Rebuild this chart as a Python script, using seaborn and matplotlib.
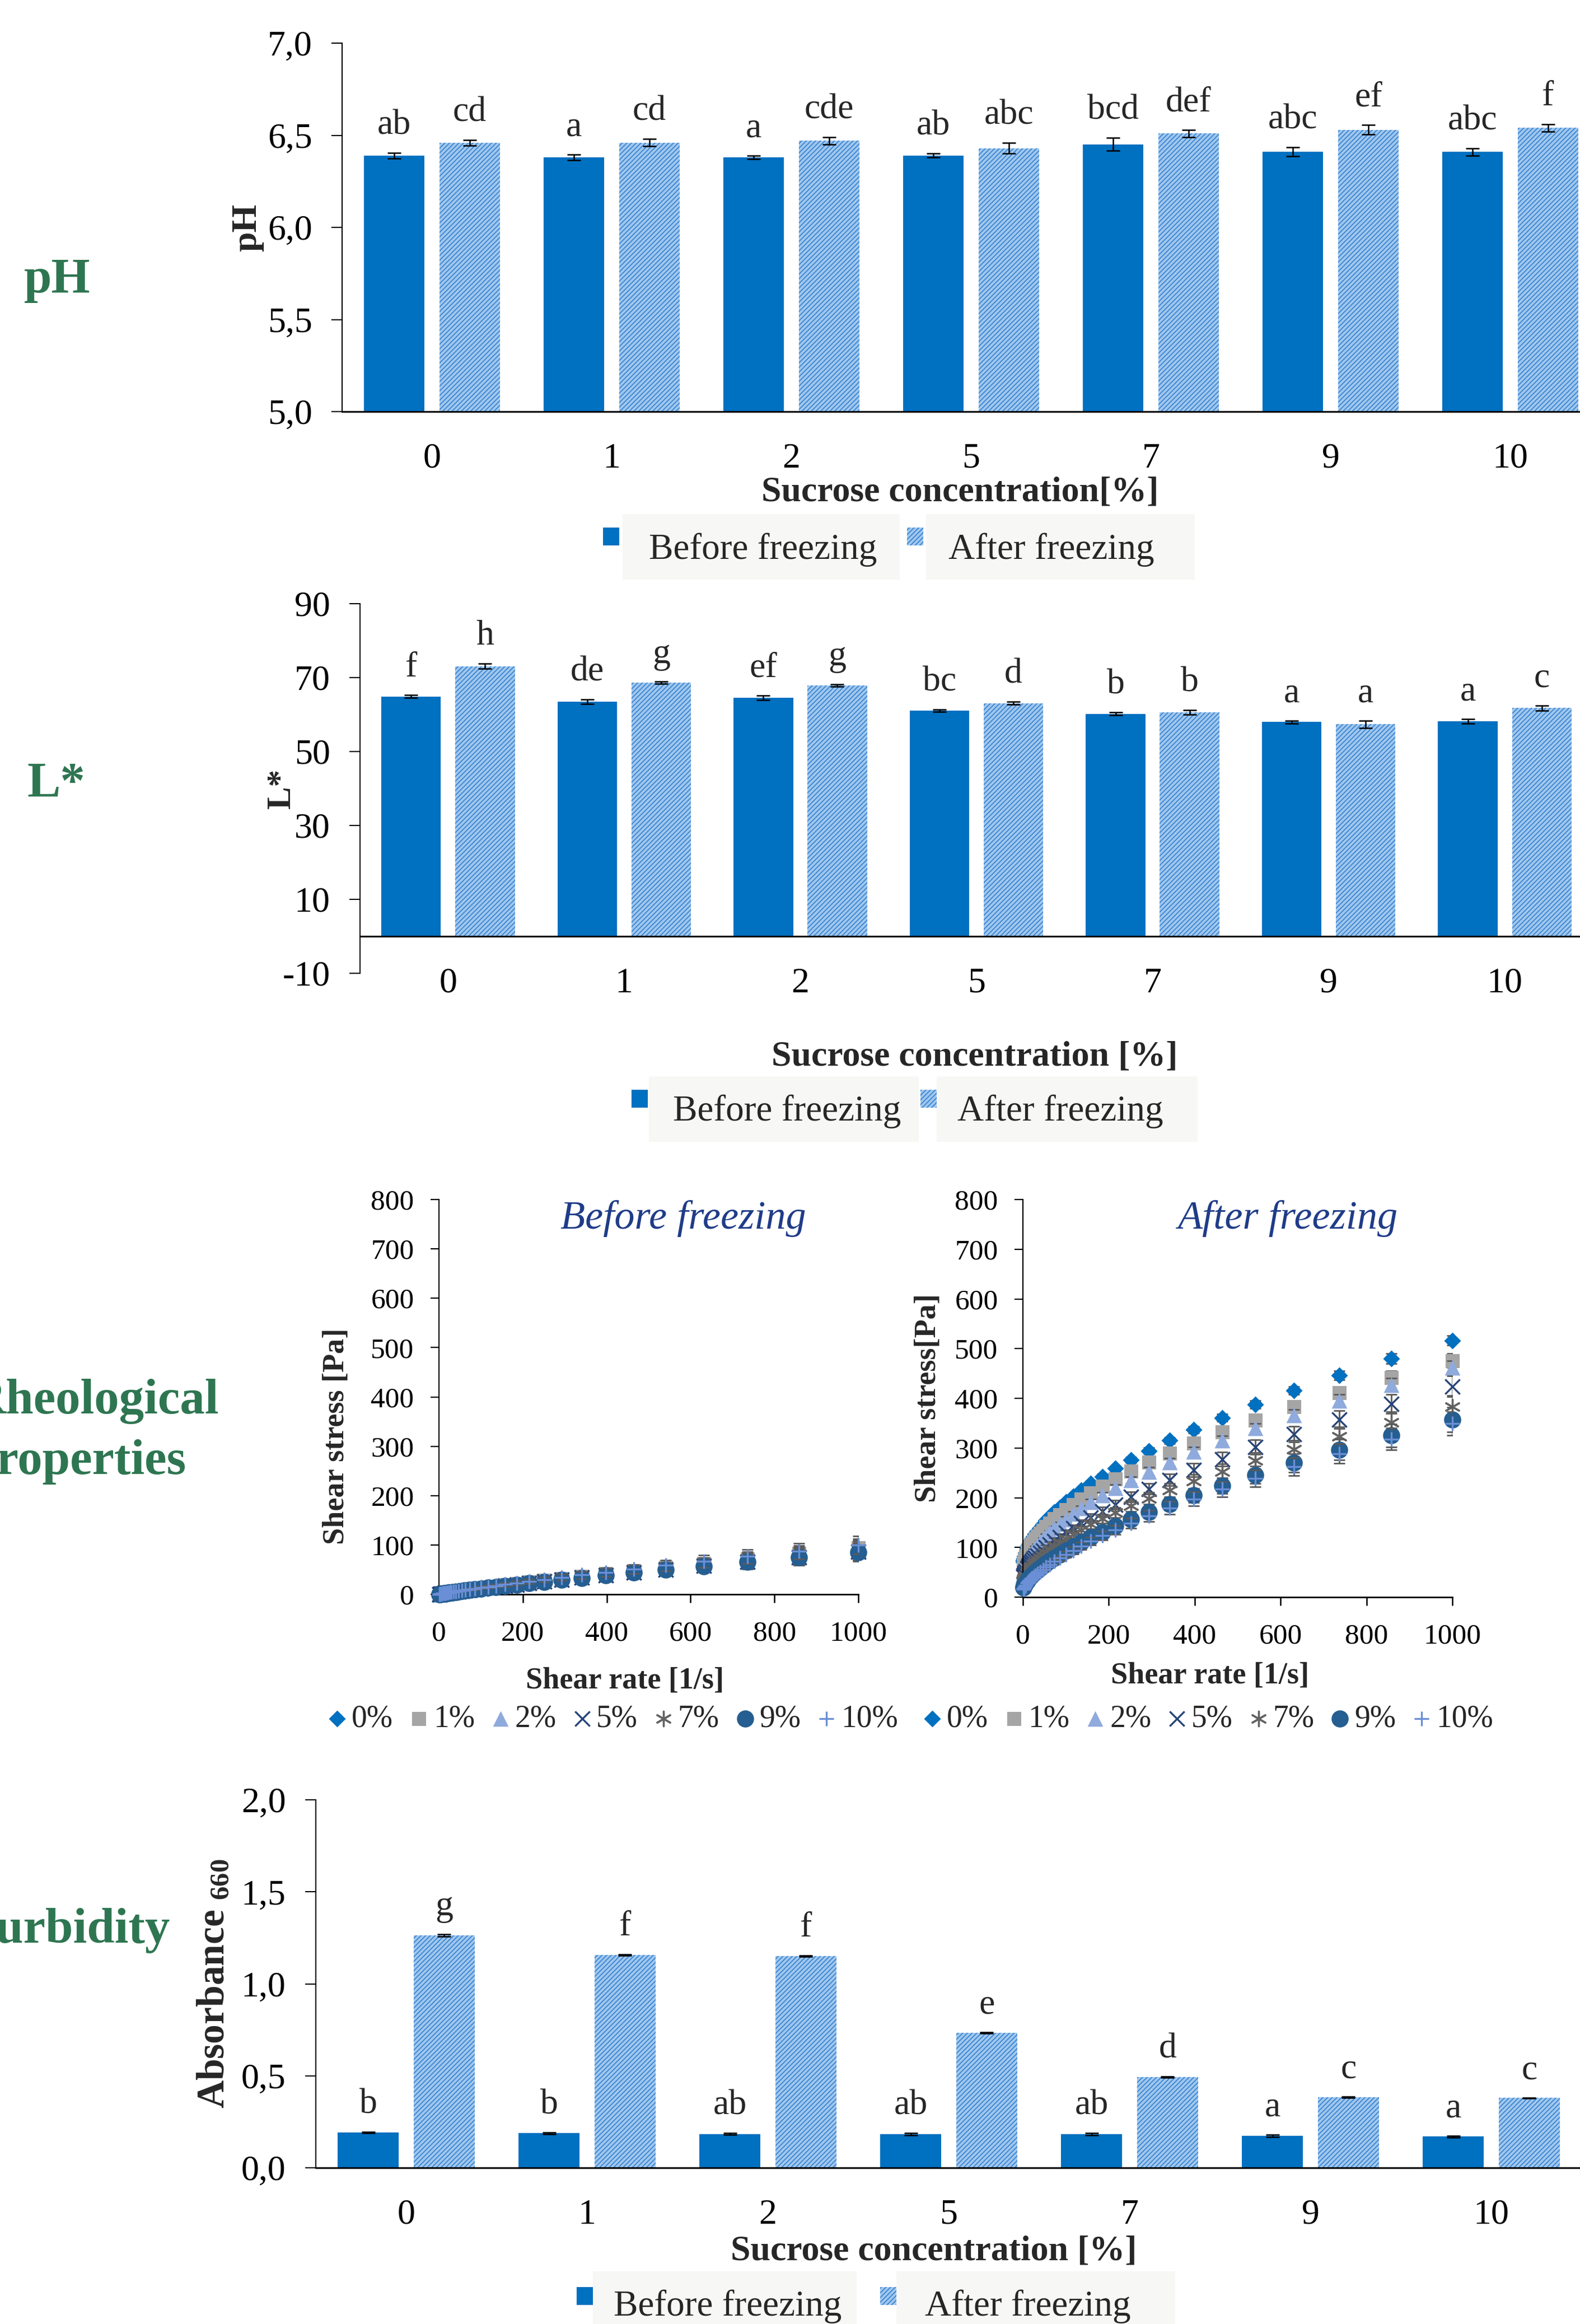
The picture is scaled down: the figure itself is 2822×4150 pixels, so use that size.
import matplotlib
matplotlib.use('Agg')
import pandas as pd
import matplotlib.pyplot as plt
import seaborn as sns
from matplotlib.patches import Rectangle
from matplotlib.markers import MarkerStyle
from matplotlib.ticker import FuncFormatter

# ---------------- data ----------------
conc_labels = ['0', '1', '2', '5', '7', '9', '10']
states = ['Before freezing', 'After freezing']

ph_before = [6.39, 6.38, 6.38, 6.39, 6.45, 6.41, 6.41]
ph_before_sd = [0.015, 0.015, 0.01, 0.01, 0.035, 0.025, 0.02]
ph_after = [6.46, 6.46, 6.47, 6.43, 6.51, 6.53, 6.54]
ph_after_sd = [0.015, 0.02, 0.02, 0.03, 0.02, 0.025, 0.02]
ph_before_letters = ['ab', 'a', 'a', 'ab', 'bcd', 'abc', 'abc']
ph_after_letters = ['cd', 'cd', 'cde', 'abc', 'def', 'ef', 'f']

lstar_before = [64.9, 63.5, 64.5, 61.0, 60.2, 58.0, 58.2]
lstar_before_sd = [0.4, 0.6, 0.6, 0.3, 0.4, 0.4, 0.6]
lstar_after = [73.1, 68.6, 67.9, 63.1, 60.6, 57.4, 61.8]
lstar_after_sd = [0.7, 0.3, 0.3, 0.4, 0.6, 1.0, 0.7]
lstar_before_letters = ['f', 'de', 'ef', 'bc', 'b', 'a', 'a']
lstar_after_letters = ['h', 'g', 'g', 'd', 'b', 'a', 'c']

turb_before = [0.192, 0.188, 0.184, 0.183, 0.184, 0.173, 0.169]
turb_before_sd = [0.004, 0.005, 0.005, 0.006, 0.006, 0.006, 0.004]
turb_after = [1.264, 1.157, 1.151, 0.734, 0.493, 0.383, 0.379]
turb_after_sd = [0.006, 0.004, 0.004, 0.004, 0.004, 0.003, 0.003]
turb_before_letters = ['b', 'b', 'ab', 'ab', 'ab', 'a', 'a']
turb_after_letters = ['g', 'f', 'f', 'e', 'd', 'c', 'c']

# rheology: shear rate [1/s] and shear stress [Pa]
shear_rate = [1.0, 1.58, 2.51, 3.98, 6.31, 10.0, 11.7, 13.6, 15.8, 18.5, 21.5, 25.1,
              29.3, 34.1, 39.8, 46.4, 54.1, 63.1, 73.6, 85.8, 100, 117, 136, 158,
              185, 215, 251, 293, 341, 398, 464, 541, 631, 736, 858, 1000]
series_names = ['0%', '1%', '2%', '5%', '7%', '9%', '10%']

bf_0 = [0.2, 0.3, 0.5, 0.7, 1.0, 1.6, 1.8, 2.0, 2.3, 2.7, 3.0, 3.5, 4.0, 4.6, 5.2, 6.0, 6.8, 7.8,
        8.9, 10.2, 11.7, 13.3, 15.2, 17.4, 19.9, 22.8, 26.1, 29.8, 34.1, 39.0, 44.6, 50.9, 58.3, 66.6, 76.2, 87.1]
bf_1 = [0.2, 0.3, 0.5, 0.8, 1.1, 1.7, 1.9, 2.2, 2.5, 2.9, 3.3, 3.8, 4.3, 4.9, 5.6, 6.4, 7.4, 8.4,
        9.6, 11.0, 12.6, 14.4, 16.4, 18.8, 21.5, 24.6, 28.1, 32.2, 36.8, 42.1, 48.1, 55.0, 62.9, 72.0, 82.3, 94.1]
bf_2 = [0.2, 0.3, 0.5, 0.7, 1.1, 1.6, 1.8, 2.1, 2.4, 2.7, 3.1, 3.6, 4.1, 4.7, 5.4, 6.1, 7.0, 8.0,
        9.2, 10.5, 12.0, 13.7, 15.7, 17.9, 20.5, 23.5, 26.8, 30.7, 35.1, 40.1, 45.9, 52.5, 60.0, 68.6, 78.5, 89.7]
bf_5 = [0.2, 0.3, 0.5, 0.7, 1.0, 1.5, 1.8, 2.0, 2.3, 2.6, 3.0, 3.4, 3.9, 4.5, 5.2, 5.9, 6.7, 7.7,
        8.8, 10.1, 11.5, 13.2, 15.1, 17.2, 19.7, 22.6, 25.8, 29.5, 33.7, 38.6, 44.1, 50.4, 57.7, 66.0, 75.4, 86.3]
bf_7 = [0.2, 0.3, 0.5, 0.7, 1.1, 1.6, 1.9, 2.1, 2.4, 2.8, 3.2, 3.7, 4.2, 4.8, 5.5, 6.2, 7.2, 8.2,
        9.3, 10.7, 12.2, 14.0, 16.0, 18.3, 20.9, 23.9, 27.4, 31.3, 35.8, 40.9, 46.8, 53.5, 61.2, 70.0, 80.0, 91.5]
bf_9 = [0.2, 0.3, 0.5, 0.7, 1.0, 1.5, 1.7, 2.0, 2.3, 2.6, 3.0, 3.4, 3.9, 4.5, 5.1, 5.8, 6.7, 7.6,
        8.7, 10.0, 11.4, 13.1, 14.9, 17.1, 19.5, 22.3, 25.5, 29.2, 33.4, 38.2, 43.7, 49.9, 57.1, 65.3, 74.7, 85.4]
bf_10 = [0.2, 0.4, 0.5, 0.8, 1.2, 1.8, 2.0, 2.3, 2.7, 3.1, 3.5, 4.0, 4.6, 5.2, 6.0, 6.8, 7.8, 9.0,
         10.2, 11.7, 13.4, 15.3, 17.5, 20.0, 22.9, 26.2, 30.0, 34.3, 39.2, 44.8, 51.2, 58.6, 67.0, 76.6, 87.6, 100.2]
bf_sd = [0.1, 0.1, 0.1, 0.2, 0.2, 0.3, 0.4, 0.4, 0.5, 0.6, 0.6, 0.7, 0.8, 1.0, 1.1, 1.3, 1.4, 1.6,
         1.9, 2.1, 2.4, 2.8, 3.2, 3.7, 4.2, 4.8, 5.5, 6.3, 7.2, 8.2, 9.4, 10.7, 12.2, 14.0, 16.0, 18.3]

af_0 = [70.8, 73.9, 77.8, 82.8, 89.3, 97.6, 100.9, 104.4, 108.3, 112.5, 117.0, 122.0, 127.3, 133.2,
        139.5, 146.4, 153.9, 162.1, 170.9, 180.6, 191.0, 202.4, 214.8, 228.2, 242.7, 258.6, 275.9,
        294.6, 315.0, 337.1, 361.1, 387.2, 415.6, 446.5, 480.0, 516.5]
af_1 = [64.9, 67.8, 71.4, 76.0, 82.0, 89.7, 92.7, 95.9, 99.5, 103.3, 107.5, 112.1, 117.0, 122.4,
        128.3, 134.6, 141.5, 149.0, 157.2, 166.1, 175.7, 186.2, 197.6, 209.9, 223.4, 238.0, 253.9,
        271.1, 289.9, 310.3, 332.4, 356.5, 382.6, 411.1, 442.0, 475.6]
af_2 = [49.0, 51.6, 55.0, 59.4, 65.1, 72.5, 75.4, 78.5, 81.9, 85.7, 89.8, 94.2, 99.0, 104.3,
        110.1, 116.3, 123.1, 130.6, 138.6, 147.5, 157.0, 167.5, 178.9, 191.3, 204.7, 219.5, 235.5,
        252.9, 271.9, 292.6, 315.1, 339.8, 366.4, 395.7, 427.4, 462.0]
af_5 = [40.6, 42.4, 44.8, 48.0, 52.3, 57.9, 60.2, 62.7, 65.4, 68.4, 71.7, 75.4, 79.4, 83.7,
        88.6, 93.9, 99.8, 106.1, 113.2, 121.0, 129.4, 138.8, 149.0, 160.3, 172.8, 186.3, 201.4,
        217.9, 236.0, 255.8, 277.6, 301.8, 328.1, 357.3, 389.0, 424.1]
af_7 = [31.2, 33.1, 35.6, 38.9, 43.2, 48.9, 51.1, 53.6, 56.3, 59.2, 62.5, 66.0, 69.9, 74.1,
        78.7, 83.9, 89.4, 95.5, 102.1, 109.5, 117.4, 126.1, 135.6, 146.2, 157.6, 170.1, 183.7,
        198.8, 215.2, 233.1, 252.7, 274.4, 297.8, 323.5, 351.7, 382.7]
af_9 = [19.1, 20.5, 22.4, 24.9, 28.3, 32.9, 34.8, 36.8, 39.1, 41.6, 44.3, 47.3, 50.7, 54.4,
        58.4, 62.9, 67.9, 73.3, 79.4, 86.0, 93.4, 101.5, 110.4, 120.2, 131.2, 143.1, 156.3,
        171.0, 187.1, 204.8, 224.5, 246.1, 269.9, 296.5, 325.5, 357.4]
af_10 = [15.5, 16.7, 18.4, 20.6, 23.8, 28.0, 29.6, 31.4, 33.4, 35.6, 38.1, 40.8, 43.9, 47.4,
         51.2, 55.6, 60.5, 65.9, 71.9, 78.5, 85.9, 94.0, 102.9, 112.7, 123.7, 135.6, 148.8,
         163.5, 179.6, 197.3, 217.0, 238.6, 262.4, 289.0, 318.0, 349.4]
af_sd_0 = [1, 1, 1, 1, 1, 2, 2, 2, 2, 2, 2, 2, 3, 3, 3, 3, 3, 3, 3, 4, 4, 4, 4, 5, 5, 5, 6, 6, 6, 7, 7, 8, 8, 9, 10, 10]
af_sd_1 = [2, 2, 2, 2, 2, 3, 3, 3, 3, 3, 3, 3, 4, 4, 4, 4, 4, 4, 5, 5, 5, 6, 6, 6, 7, 7, 8, 8, 9, 9, 10, 11, 11, 12, 13, 14]
af_sd_2 = [1, 2, 2, 2, 2, 2, 2, 2, 2, 3, 3, 3, 3, 3, 3, 3, 4, 4, 4, 4, 5, 5, 5, 6, 6, 7, 7, 8, 8, 9, 9, 10, 11, 12, 13, 14]
af_sd_5 = [2, 2, 2, 2, 3, 3, 3, 3, 3, 3, 4, 4, 4, 4, 4, 5, 5, 5, 6, 6, 6, 7, 7, 8, 9, 9, 10, 11, 12, 13, 14, 15, 16, 18, 19, 21]
af_sd_7 = [2, 2, 2, 2, 3, 3, 3, 3, 3, 4, 4, 4, 4, 4, 5, 5, 5, 6, 6, 7, 7, 8, 8, 9, 9, 10, 11, 12, 13, 14, 15, 16, 18, 19, 21, 23]
af_sd_9 = [1, 1, 2, 2, 2, 2, 2, 3, 3, 3, 3, 3, 4, 4, 4, 4, 5, 5, 6, 6, 7, 7, 8, 8, 9, 10, 11, 12, 13, 14, 16, 17, 19, 21, 23, 25]
af_sd_10 = [1, 1, 1, 1, 2, 2, 2, 2, 2, 3, 3, 3, 3, 3, 4, 4, 4, 5, 5, 5, 6, 7, 7, 8, 9, 9, 10, 11, 13, 14, 15, 17, 18, 20, 22, 24]

# ---------------- style ----------------
BLUE = '#0070C0'
AFTER_FACE = '#A3C8EC'
HATCH = '#3D88D6'
GREEN = '#2e7651'
NAVY = '#1f3c88'
LEG_BOX = '#f7f7f5'
ERR_GRAY = '#5a5a5a'

series_colors = ['#0070C0', '#A5A5A5', '#8FAADC', '#264478', '#636363', '#255E91', '#6A8FD6']
series_markers = ['D', 's', '^', 'x', (6, 2, 0), 'o', '+']
series_sizes = [234, 324, 400, 361, 361, 484, 361]

sns.set_theme(style='ticks')
plt.rcParams['font.family'] = ['Liberation Serif', 'DejaVu Serif']
plt.rcParams['mathtext.fontset'] = 'custom'
plt.rcParams['mathtext.rm'] = 'Liberation Serif'
plt.rcParams['mathtext.bf'] = 'Liberation Serif:bold'
plt.rcParams['mathtext.it'] = 'Liberation Serif:italic'
plt.rcParams['hatch.linewidth'] = 1.4
plt.rcParams['axes.unicode_minus'] = False
plt.rcParams['axes.edgecolor'] = 'black'
plt.rcParams['xtick.color'] = 'black'
plt.rcParams['ytick.color'] = 'black'

W, H = 2822, 4150
fig = plt.figure(figsize=(W / 100, H / 100), dpi=100)
fig.patch.set_facecolor('white')


def rect_px(left, top, right, bottom):
    return [left / W, 1 - bottom / H, (right - left) / W, (bottom - top) / H]


def comma(decimals):
    return FuncFormatter(lambda v, _: f'{v:.{decimals}f}'.replace('.', ','))


def bar_panel(box, before, after, before_sd, after_sd, before_lab, after_lab,
              ylim, yticks, ylabel, ylabel_x, ylabel_size, xlabel, xlabel_xy,
              decimals=None, zero_axis=False, fs=46):
    ax = fig.add_axes(rect_px(*box))
    df = pd.DataFrame({'conc': conc_labels * 2,
                       'value': before + after,
                       'state': [states[0]] * 7 + [states[1]] * 7})
    sns.barplot(data=df, x='conc', y='value', hue='state', order=conc_labels,
                hue_order=states, palette=[BLUE, AFTER_FACE], saturation=1,
                width=0.84, gap=0.195, errorbar=None, linewidth=0,
                legend=False, ax=ax)
    bars_b, bars_a = ax.containers[0], ax.containers[1]
    for p in bars_a:
        p.set_hatch('////')
        p.set_edgecolor(HATCH)
        p.set_linewidth(0)
    for bars, sd, labs in [(bars_b, before_sd, before_lab), (bars_a, after_sd, after_lab)]:
        xs = [p.get_x() + p.get_width() / 2 for p in bars]
        ys = [p.get_height() for p in bars]
        ax.errorbar(xs, ys, yerr=sd, fmt='none', ecolor='black', elinewidth=1.8,
                    capsize=8.5, capthick=1.8, zorder=3)
        for x, y, s, t in zip(xs, ys, sd, labs):
            ax.annotate(t, (x, y + s), xytext=(0, 14), textcoords='offset points',
                        ha='center', va='bottom', fontsize=fs)
    ax.set_xlim(-0.5, 6.5)
    ax.set_ylim(*ylim)
    ax.set_yticks(yticks)
    if decimals is not None:
        ax.yaxis.set_major_formatter(comma(decimals))
    ax.spines[['top', 'right']].set_visible(False)
    ax.spines['left'].set_linewidth(1.5)
    ax.spines['bottom'].set_linewidth(2.2)
    if zero_axis:
        ax.spines['bottom'].set_position(('data', 0))
    ax.tick_params(axis='y', direction='out', length=13.5, width=1.5, pad=25, labelsize=fs)
    ax.tick_params(axis='x', length=0, pad=40, labelsize=fs)
    ax.set_xlabel(xlabel, fontsize=fs, fontweight='bold')
    ax.xaxis.set_label_coords(*xlabel_xy)
    ax.set_ylabel(ylabel, fontsize=ylabel_size, fontweight='bold')
    ax.yaxis.set_label_coords(ylabel_x, 0.5)
    return ax


def bar_legend(m1, b1, t1, m2, b2, t2, mw=29, mh=32, bh=117, fs=47):
    # entry boxes
    for (x, y, w) in [b1, b2]:
        fig.add_artist(Rectangle((x / W, 1 - (y + bh) / H), w / W, bh / H,
                                 transform=fig.transFigure, facecolor=LEG_BOX,
                                 edgecolor='none'))
    fig.add_artist(Rectangle((m1[0] / W, 1 - (m1[1] + mh) / H), mw / W, mh / H,
                             transform=fig.transFigure, facecolor=BLUE, linewidth=0))
    fig.add_artist(Rectangle((m2[0] / W, 1 - (m2[1] + mh) / H), mw / W, mh / H,
                             transform=fig.transFigure, facecolor=AFTER_FACE,
                             edgecolor=HATCH, hatch='////', linewidth=0))
    fig.text(t1[0] / W, 1 - t1[1] / H, states[0], ha='left', va='center', fontsize=fs)
    fig.text(t2[0] / W, 1 - t2[1] / H, states[1], ha='left', va='center', fontsize=fs)


def rheo_panel(box, series, sds, title, title_xy, ylabel, ylabel_xy, xlabel_xy, legend_xy):
    ax = fig.add_axes(rect_px(*box))
    for i in range(7):
        ax.errorbar(shear_rate, series[i], yerr=sds[i], fmt='none', ecolor=ERR_GRAY,
                    elinewidth=2.0, capsize=7, capthick=2.0, zorder=2 + i * 0.1)
        m = series_markers[i]
        if MarkerStyle(m).is_filled():
            kw = dict(edgecolor=series_colors[i], linewidth=0)
        else:
            kw = dict(edgecolor=series_colors[i], linewidth=2.4)
        sns.scatterplot(x=shear_rate, y=series[i], marker=m, s=series_sizes[i],
                        color=series_colors[i], label=series_names[i], ax=ax,
                        zorder=2.05 + i * 0.1, clip_on=False, **kw)
    ax.set_xlim(0, 1000)
    ax.set_ylim(0, 800)
    ax.set_xticks(range(0, 1001, 200))
    ax.set_yticks(range(0, 801, 100))
    ax.spines[['top', 'right']].set_visible(False)
    ax.spines['left'].set_linewidth(1.6)
    ax.spines['bottom'].set_linewidth(2.0)
    ax.tick_params(axis='y', direction='out', length=11, width=1.6, pad=21, labelsize=37)
    ax.tick_params(axis='x', direction='out', length=11, width=1.8, pad=23, labelsize=37)
    ax.text(title_xy[0], title_xy[1], title, transform=ax.transAxes, ha='center',
            va='center', fontsize=52, style='italic', color=NAVY)
    ax.set_xlabel('Shear rate [1/s]', fontsize=39, fontweight='bold')
    ax.xaxis.set_label_coords(*xlabel_xy)
    ax.set_ylabel(ylabel, fontsize=39, fontweight='bold')
    ax.yaxis.set_label_coords(*ylabel_xy)
    handles, labels = ax.get_legend_handles_labels()
    ax.legend(handles, labels, ncol=7, loc='center', bbox_to_anchor=legend_xy,
              frameon=False, fontsize=40, handletextpad=0.11, columnspacing=0.48,
              handlelength=0.7, borderaxespad=0, borderpad=0)
    return ax


# ---------------- pH ----------------
bar_panel((611, 77, 2858, 735), ph_before, ph_after, ph_before_sd, ph_after_sd,
          ph_before_letters, ph_after_letters, (5.0, 7.0), [5.0, 5.5, 6.0, 6.5, 7.0],
          'pH', -0.062, 46, 'Sucrose concentration[%]', (0.491, -0.176), decimals=1)
bar_legend((1077, 942), (1112, 918, 495), (1159, 982),
           (1620, 942), (1654, 918, 480), (1694, 982))

# ---------------- L* ----------------
bar_panel((643, 1078, 2845, 1738), lstar_before, lstar_after, lstar_before_sd, lstar_after_sd,
          lstar_before_letters, lstar_after_letters, (-10, 90), [-10, 10, 30, 50, 70, 90],
          'L*', -0.051, 44, 'Sucrose concentration [%]', (0.4986, -0.183), zero_axis=True)
bar_legend((1128, 1946), (1159, 1922, 482), (1202, 1985),
           (1644, 1946), (1673, 1922, 466), (1710, 1985))

# ---------------- rheology ----------------
rheo_panel((784, 2142, 1533, 2847), [bf_0, bf_1, bf_2, bf_5, bf_7, bf_9, bf_10], [bf_sd] * 7,
           'Before freezing', (0.582, 0.952), 'Shear stress [Pa]', (-0.212, 0.40),
           (0.443, -0.184), (0.413, -0.316))
rheo_panel((1827, 2142, 2594, 2852), [af_0, af_1, af_2, af_5, af_7, af_9, af_10],
           [af_sd_0, af_sd_1, af_sd_2, af_sd_5, af_sd_7, af_sd_9, af_sd_10],
           'After freezing', (0.617, 0.952), 'Shear stress[Pa]', (-0.188, 0.50),
           (0.435, -0.162), (0.429, -0.307))

# ---------------- turbidity ----------------
bar_panel((564, 3214, 2825, 3871), turb_before, turb_after, turb_before_sd, turb_after_sd,
          turb_before_letters, turb_after_letters, (0.0, 2.0), [0.0, 0.5, 1.0, 1.5, 2.0],
          r'$\mathbf{Absorbance\ }_{\mathbf{660}}$', -0.066, 50,
          'Sucrose concentration [%]', (0.488, -0.184), decimals=1)
bar_legend((1030, 4084), (1059, 4056, 471), (1096, 4119),
           (1572, 4084), (1601, 4056, 498), (1652, 4119), bh=120)

# ---------------- row titles ----------------
row_kw = dict(fontsize=64, fontweight='bold', color=GREEN, va='baseline')
fig.text(43 / W, 1 - 522 / H, 'pH', ha='left', **row_kw)
fig.text(48 / W, 1 - 1422 / H, 'L*', ha='left', **row_kw)
fig.text(391 / W, 1 - 2524 / H, 'Rheological', ha='right', **row_kw)
fig.text(333 / W, 1 - 2632 / H, 'properties', ha='right', **row_kw)
fig.text(304 / W, 1 - 3469 / H, 'Turbidity', ha='right', **row_kw)

fig.savefig('out.png', dpi=100, facecolor='white')
